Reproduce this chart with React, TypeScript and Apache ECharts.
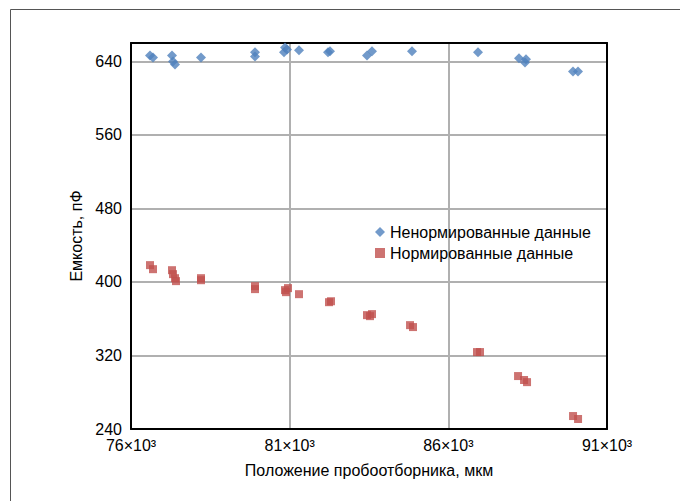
import React, { useEffect, useRef } from "react";
import * as echarts from "echarts";

// Положение пробоотборника (мкм) и емкость (пФ)
const rawX = [
  76599, 76693, 77292, 77324, 77387, 78206, 79908, 79908, 80821, 80853, 80916,
  81294, 82208, 82271, 83437, 83595, 84855, 86935, 88227, 88448, 88416, 89929, 90087,
];
const rawY = [
  646.5, 644.3, 646.5, 640, 636.7, 644.3, 649.8, 645.4, 649.8, 655.2, 653,
  652, 649.8, 650.9, 646.5, 650.9, 650.9, 649.8, 643.3, 642.2, 638.9, 629.1, 629.1,
];

const normX = [
  76599, 76693, 77292, 77324, 77387, 77418, 78206, 78206, 79908, 79908, 80853, 80948,
  80885, 81294, 82240, 82303, 83437, 83532, 83595, 84793, 84887, 86904, 86998, 88197,
  88386, 88480, 89930, 90088,
];
const normY = [
  418.3, 413.9, 412.8, 408.5, 404.1, 400.9, 404.1, 401.9, 395.4, 392.2, 391.1, 393.3,
  388.9, 386.7, 378, 379, 363.9, 362.8, 365, 353, 350.9, 323.7, 323.7, 297.6,
  293.3, 291, 254.1, 250.9,
];

const seriesNames = ["Ненормированные данные", "Нормированные данные"];
const xTickStep = 5000;
const yTickStep = 80;

const FONT = "'Liberation Sans', Arial, sans-serif";
const FS = 16;

export default function App() {
  const ref = useRef<HTMLDivElement>(null);
  useEffect(() => {
    if (!ref.current) return;
    const chart = echarts.init(ref.current, null, { renderer: "svg" });
    const rawData = rawX.map((x, i) => [x, rawY[i]]);
    const normData = normX.map((x, i) => [x, normY[i]]);
    const borderLine = { show: true, lineStyle: { color: "#000", width: 2 } };
    chart.setOption({
      animation: false,
      textStyle: { fontFamily: FONT },
      graphic: [
        {
          type: "rect",
          shape: { x: 10.5, y: 9.5, width: 700, height: 600 },
          style: { fill: "none", stroke: "#555", lineWidth: 1 },
          silent: true,
        },
      ],
      grid: { left: 131, right: 73, top: 43, bottom: 72 },
      legend: {
        orient: "vertical",
        left: 370,
        top: 219,
        itemWidth: 10,
        itemHeight: 10,
        itemGap: 5,
        textStyle: { fontFamily: FONT, fontSize: FS, color: "#000" },
        data: [
          { name: seriesNames[0], icon: "diamond" },
          { name: seriesNames[1], icon: "rect" },
        ],
      },
      xAxis: [
        {
          type: "value",
          min: 76000,
          max: 91000,
          interval: xTickStep,
          name: "Положение пробоотборника, мкм",
          nameLocation: "middle",
          nameGap: 33,
          nameTextStyle: { fontFamily: FONT, fontSize: FS, color: "#000" },
          axisLine: borderLine,
          axisTick: { show: false },
          axisLabel: {
            fontFamily: FONT,
            fontSize: FS,
            color: "#000",
            margin: 8,
            formatter: (v: number) => `${Math.round(v / 1000)}×10³`,
          },
          splitLine: { show: true, lineStyle: { color: "#b0b0b0", width: 2 } },
          z: 3,
        },
        {
          type: "value",
          position: "top",
          min: 76000,
          max: 91000,
          interval: xTickStep,
          axisLine: borderLine,
          axisTick: { show: false },
          axisLabel: { show: false },
          splitLine: { show: false },
          z: 3,
        },
      ],
      yAxis: [
        {
          type: "value",
          min: 240,
          max: 660,
          interval: yTickStep,
          name: "Емкость, пФ",
          nameLocation: "middle",
          nameGap: 42,
          nameTextStyle: { fontFamily: FONT, fontSize: FS, color: "#000" },
          axisLine: borderLine,
          axisTick: { show: false },
          axisLabel: {
            fontFamily: FONT,
            fontSize: FS,
            color: "#000",
            margin: 9,
            formatter: (v: number) => (v % yTickStep === 0 ? String(v) : ""),
          },
          splitLine: { show: true, lineStyle: { color: "#b0b0b0", width: 2 } },
          z: 3,
        },
        {
          type: "value",
          position: "right",
          min: 240,
          max: 660,
          interval: yTickStep,
          axisLine: borderLine,
          axisTick: { show: false },
          axisLabel: { show: false },
          splitLine: { show: false },
          z: 3,
        },
      ],
      series: [
        {
          name: seriesNames[0],
          type: "scatter",
          symbol: "diamond",
          symbolSize: 10,
          itemStyle: { color: "#4F81BD" },
          data: rawData,
          z: 4,
        },
        {
          name: seriesNames[1],
          type: "scatter",
          symbol: "rect",
          symbolSize: 8,
          itemStyle: { color: "#C0504D" },
          data: normData,
          z: 4,
        },
      ],
    });
    return () => chart.dispose();
  }, []);
  return (
    <div
      ref={ref}
      style={{ position: "fixed", left: 0, top: 0, width: 680, height: 501, background: "#fff" }}
    />
  );
}
